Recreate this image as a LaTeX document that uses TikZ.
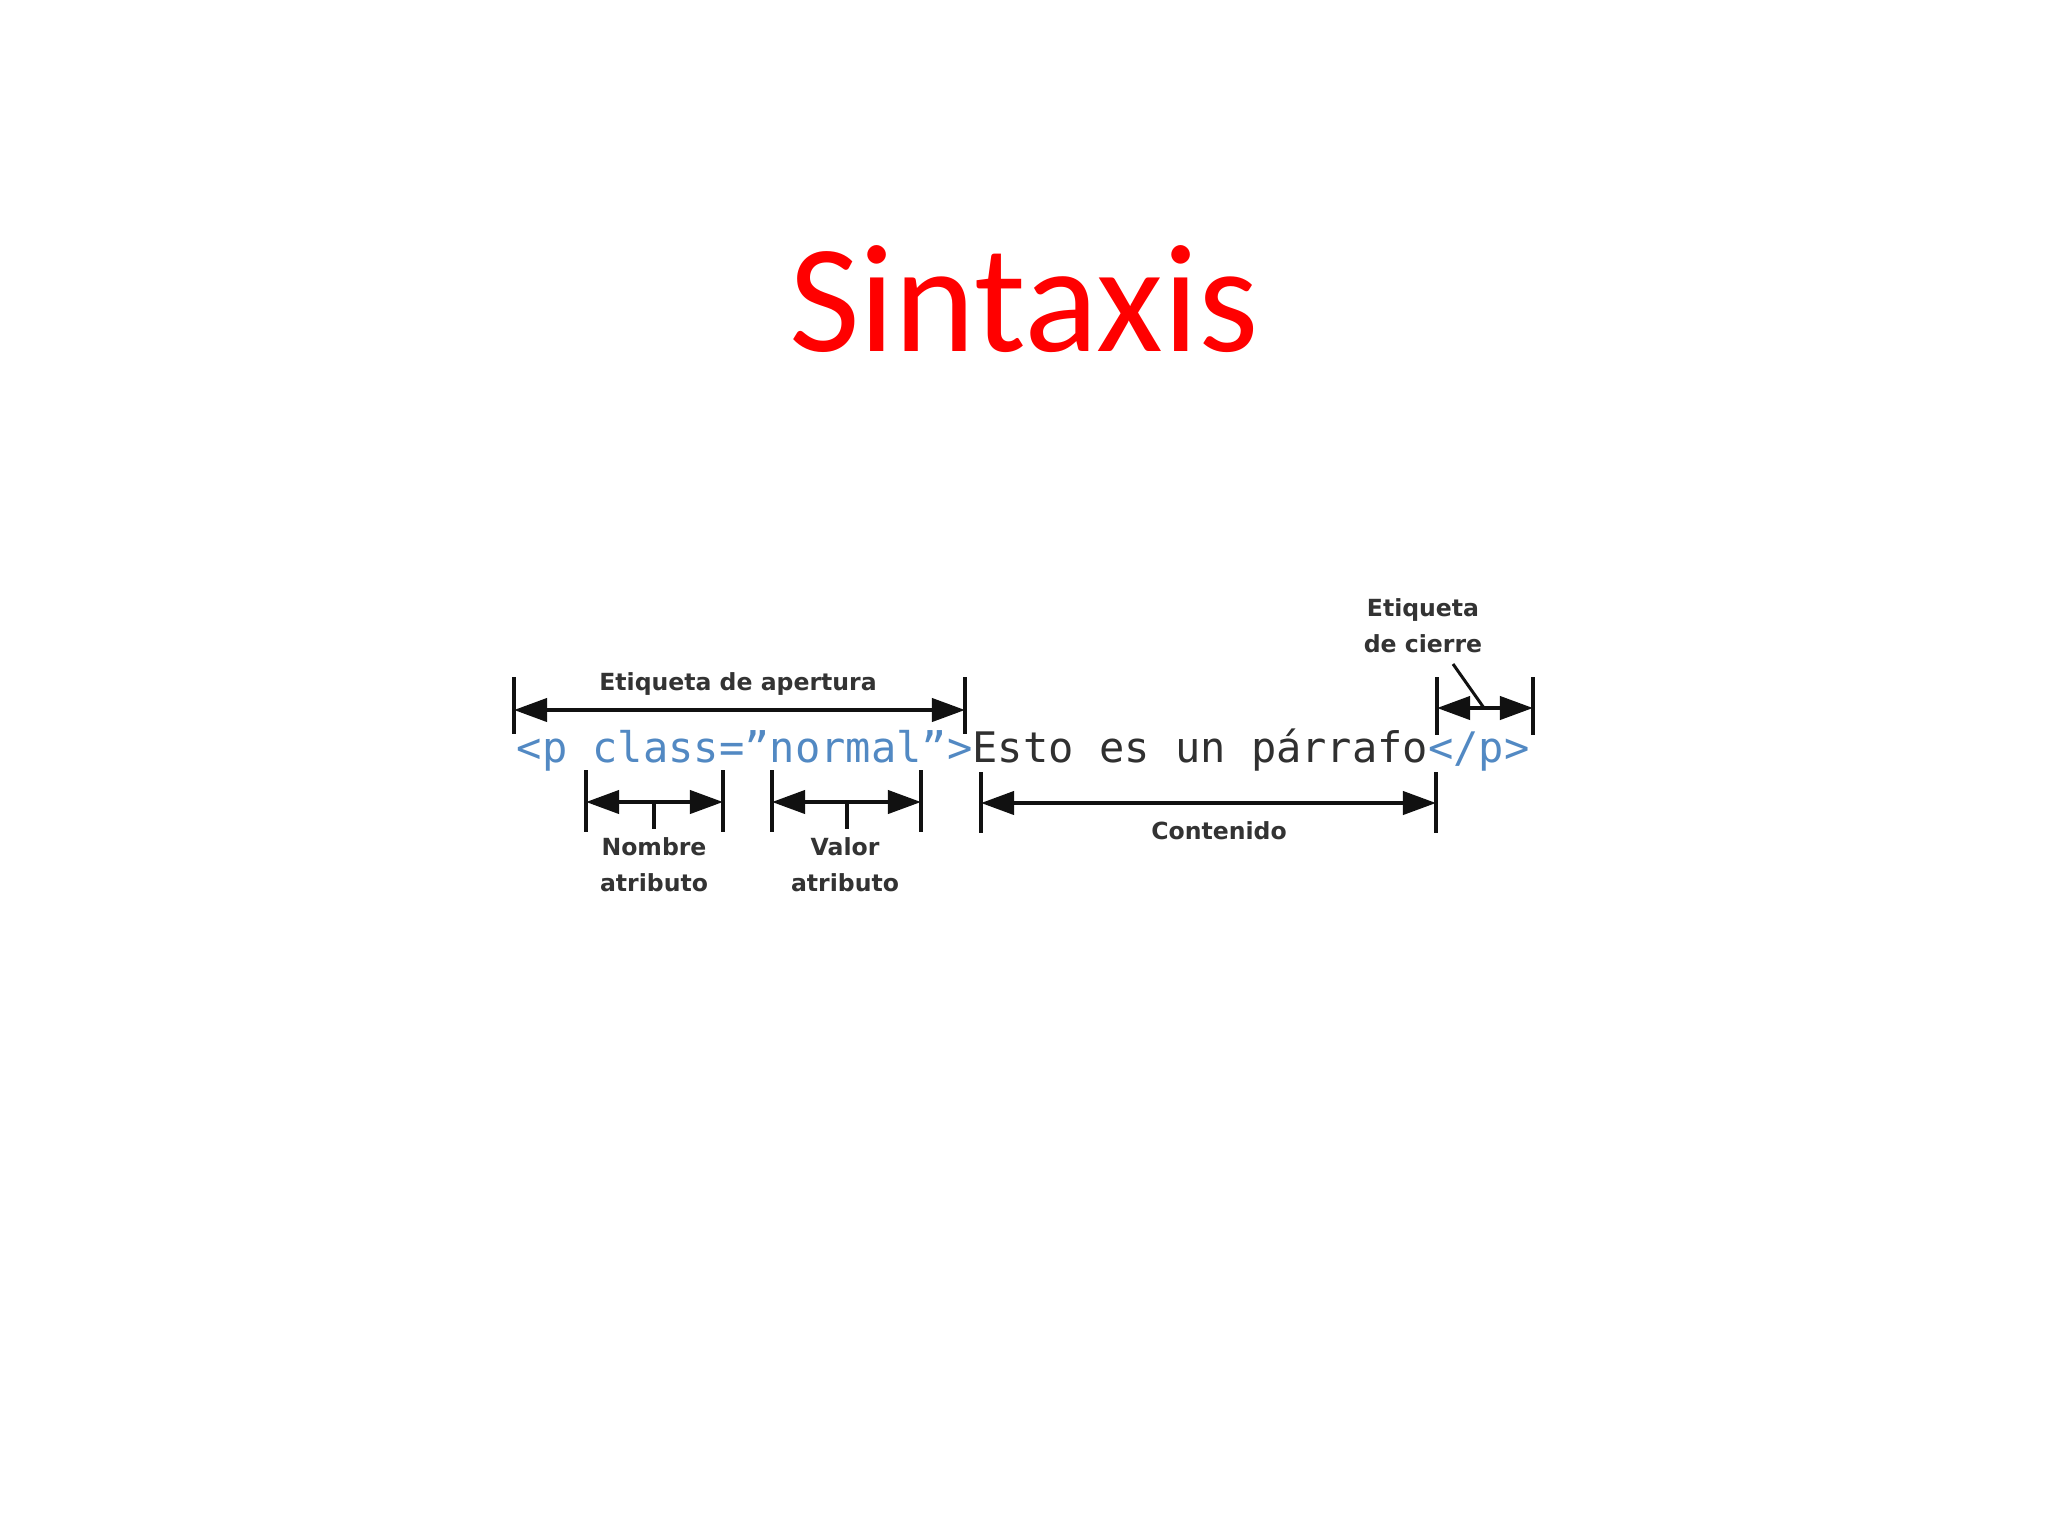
\documentclass[tikz,border=0pt]{standalone}
\usepackage{fontspec}
\usetikzlibrary{arrows.meta}
\newfontfamily\titlefont{Carlito}
\newfontfamily\codefont{DejaVu Sans Mono}
\newfontfamily\lblfont{DejaVu Sans}
\definecolor{titlered}{HTML}{FF0000}
\definecolor{codeblue}{HTML}{5289C3}
\definecolor{codedark}{HTML}{303030}
\definecolor{lblgray}{HTML}{333333}
\definecolor{dimblack}{HTML}{111111}
\tikzset{
  titletext/.style={font=\titlefont\fontsize{43.8pt}{50pt}\selectfont, text=titlered, inner sep=0pt},
  codetext/.style={font=\codefont\fontsize{11.96pt}{14pt}\selectfont, inner sep=0pt},
  lbl/.style={font=\lblfont\bfseries\fontsize{6.7pt}{10.24pt}\selectfont, text=lblgray, inner sep=0pt, align=center},
  bar/.style={draw=dimblack, line width=0.04cm},
  dimarrow/.style={draw=dimblack, line width=0.04cm, {Triangle[length=0.33cm,width=0.23cm]}-{Triangle[length=0.33cm,width=0.23cm]}},
  leader/.style={draw=dimblack, line width=0.03cm}
}
\begin{document}
\begin{tikzpicture}[x=0.01cm,y=-0.01cm]
\useasboundingbox[fill=white] (0,0) rectangle (2048,1536);
% title
\node[titletext, anchor=base] (title) at (1024,351) {Sintaxis};
% code line
\node[codetext, anchor=base west] (code) at (516,762)
  {\textcolor{codeblue}{<p class=”normal”>}\textcolor{codedark}{Esto es un párrafo}\textcolor{codeblue}{</p>}};
% ---- Etiqueta de apertura
\coordinate (apLt) at (514,677); \coordinate (apLb) at (514,734);
\coordinate (apRt) at (965,677); \coordinate (apRb) at (965,734);
\coordinate (apL) at (514,710); \coordinate (apR) at (965,710);
\draw[bar] (apLt) -- (apLb);
\draw[bar] (apRt) -- (apRb);
\draw[dimarrow] (apL) -- (apR);
\node[lbl, anchor=base] (aplbl) at (738,690) {Etiqueta de apertura};
% ---- Etiqueta de cierre
\coordinate (ciLt) at (1437,677); \coordinate (ciLb) at (1437,735);
\coordinate (ciRt) at (1533,677); \coordinate (ciRb) at (1533,735);
\coordinate (ciL) at (1437,708); \coordinate (ciR) at (1533,708);
\coordinate (ciM) at (1484,708);
\coordinate (ciTop) at (1453,664);
\draw[bar] (ciLt) -- (ciLb);
\draw[bar] (ciRt) -- (ciRb);
\draw[dimarrow] (ciL) -- (ciR);
\node[lbl] (cilbl) at (1423,626) {Etiqueta\\de cierre};
\draw[leader] (ciTop) -- (ciM);
% ---- Nombre atributo
\coordinate (naLt) at (586,770); \coordinate (naLb) at (586,832);
\coordinate (naRt) at (723,770); \coordinate (naRb) at (723,832);
\coordinate (naL) at (586,802); \coordinate (naR) at (723,802);
\coordinate (naM) at (654,802); \coordinate (naT) at (654,829);
\draw[bar] (naLt) -- (naLb);
\draw[bar] (naRt) -- (naRb);
\draw[dimarrow] (naL) -- (naR);
\draw[bar] (naM) -- (naT);
\node[lbl] (nalbl) at (654,865) {Nombre\\atributo};
% ---- Valor atributo
\coordinate (vaLt) at (772,770); \coordinate (vaLb) at (772,832);
\coordinate (vaRt) at (921,770); \coordinate (vaRb) at (921,832);
\coordinate (vaL) at (772,802); \coordinate (vaR) at (921,802);
\coordinate (vaM) at (847,802); \coordinate (vaT) at (847,829);
\draw[bar] (vaLt) -- (vaLb);
\draw[bar] (vaRt) -- (vaRb);
\draw[dimarrow] (vaL) -- (vaR);
\draw[bar] (vaM) -- (vaT);
\node[lbl] (valbl) at (845,865) {Valor\\atributo};
% ---- Contenido
\coordinate (coLt) at (981,772); \coordinate (coLb) at (981,833);
\coordinate (coRt) at (1436,772); \coordinate (coRb) at (1436,833);
\coordinate (coL) at (981,803); \coordinate (coR) at (1436,803);
\draw[bar] (coLt) -- (coLb);
\draw[bar] (coRt) -- (coRb);
\draw[dimarrow] (coL) -- (coR);
\node[lbl, anchor=base] (colbl) at (1219,839) {Contenido};
\end{tikzpicture}
\end{document}
